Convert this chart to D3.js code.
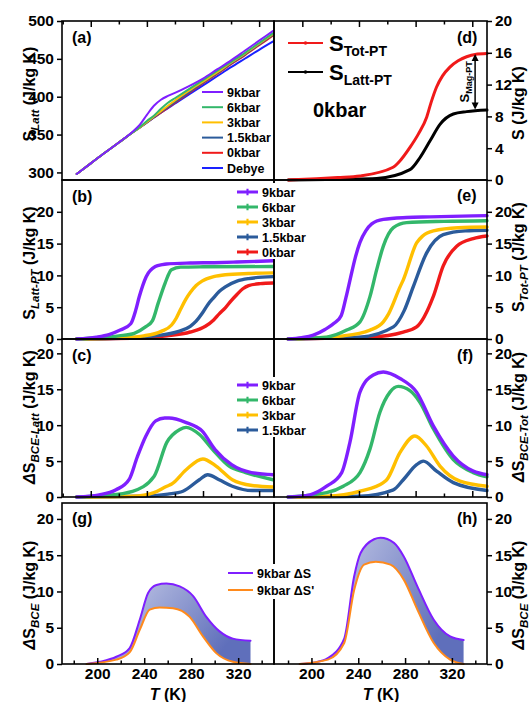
<!DOCTYPE html>
<html>
<head>
<meta charset="utf-8">
<script src="https://cdn.jsdelivr.net/npm/d3@7"></script>
<style>
  body { margin: 0; background: #fff; }
</style>
</head>
<body>
<script>
// ---- data ----
// (a) lattice entropy, common temperature grid
var tempLatt = [190, 200, 210, 220, 230, 235, 240, 245, 250, 255, 260, 270, 280, 290, 300, 310, 320, 330];
var sLatt9 = [298, 312, 326, 339.5, 354, 363, 376, 388, 396, 401, 405, 414, 424, 436, 448, 461, 474, 487];
var sLatt6 = [298, 312, 326, 339.5, 353, 360, 368, 375, 384, 392, 398, 410, 422, 434, 446, 458, 471, 484];
var sLatt3 = [298, 312, 326, 339.5, 353, 359.5, 366.5, 374, 381, 388, 395, 408, 420, 432, 445, 457, 470, 483];
var sLatt15 = [298, 312, 326, 339.5, 353, 359.5, 366, 373, 380, 386.5, 393, 406, 419, 431, 444, 456, 469, 482];
var sLatt0 = [298, 312, 326, 339.5, 353, 359.5, 366, 372.5, 379, 385.5, 392, 405, 418, 430, 443, 455, 468, 481];
var sLattDebye = [298, 312, 326, 339.5, 353, 359.5, 366, 372.5, 379, 385, 391, 403, 415, 427, 439, 450.5, 462, 473];

// (b) S_Latt-PT  [T, S]
var lattPT9 = [[190,0],[204,0.3],[213,0.7],[221,1.4],[228.5,2.4],[232,4.5],[234.5,6.6],[239.5,9.8],[246,11.4],[251,11.7],[254,11.8],[271,11.95],[288,12.0],[304,12.1],[330,12.3]];
var lattPT6 = [[190,0],[206,0.2],[220,0.5],[231,0.9],[239,1.9],[244,2.9],[248,5.6],[253,8.8],[257.5,10.9],[264,11.3],[280,11.35],[330,11.4]];
var lattPT3 = [[190,0],[221,0.2],[237.7,0.5],[250.2,1.2],[257.6,2.2],[261,3.3],[264.3,4.8],[267.6,6.2],[270.9,7.3],[275.1,8.4],[279.3,9.1],[287.6,9.8],[295.9,10.1],[312.5,10.3],[330,10.4]];
var lattPT15 = [[190,0],[229.4,0.2],[246,0.5],[262.6,1.2],[270.9,2.0],[275.1,2.8],[279.3,4.0],[283.4,5.4],[287.6,6.5],[291.7,7.5],[295.9,8.2],[304.2,9.1],[312.5,9.5],[330,9.8]];
var lattPT0 = [[190,0],[237.7,0.2],[254.3,0.5],[270.9,1.1],[281.7,2.0],[287.6,3.0],[291.7,4.0],[295.9,4.9],[300,6.0],[304.2,7.0],[308.4,7.9],[312.5,8.4],[320.8,8.7],[330,8.8]];

// (c) dS_BCE-Latt
var bceLatt9 = [[190,0],[206,0.3],[218,1.0],[227.5,2.5],[233,5.5],[239.3,8.5],[246.3,10.6],[252.7,11.0],[255.8,11.0],[267.6,10.4],[279.3,9.2],[288.6,6.6],[300.4,4.5],[314.5,3.4],[330,3.1]];
var bceLatt6 = [[190,0],[210,0.2],[229.8,0.8],[245.2,2.9],[254.2,7.6],[263.5,9.4],[268,9.7],[277.5,8.7],[286.9,6.6],[298.6,4.3],[310.4,3.4],[330,2.4]];
var bceLatt3 = [[190,0],[230,0.1],[245,0.6],[254.2,1.5],[257.7,1.8],[268,3.8],[279.9,5.3],[289.3,4.3],[300.9,2.4],[315,1.6],[330,1.4]];
var bceLatt15 = [[190,0],[234.4,0.1],[255,0.4],[265.7,0.8],[277.4,2.4],[283.3,3.1],[291.5,2.4],[300.9,1.5],[315,0.9],[330,0.9]];

// (d) 0 kbar total and lattice
var totPT0d = [[190,0],[210,0.15],[225,0.3],[240.7,0.5],[264.1,1.6],[268.9,2.4],[276,4.1],[282,5.8],[287.8,7.9],[291,9.8],[294.8,11.7],[299,13.1],[304.2,14.2],[310,15.0],[316,15.5],[322,15.8],[330.4,15.9]];
var lattPT0d = [[190,0],[230,0.1],[252.5,0.2],[276,1.3],[283,2.8],[290.1,4.9],[297.2,7.0],[306.6,8.3],[316,8.6],[330.4,8.8]];

// (e) S_Tot-PT
var totPT9 = [[190,0],[199.5,0.2],[207.8,0.6],[216,1.5],[222.6,2.5],[227.5,3.7],[230.8,6.5],[234.1,9.7],[237.4,12.8],[240.7,15.2],[244.8,17.0],[249,18.1],[257.2,18.8],[273.6,19.1],[290.1,19.2],[330.4,19.4]];
var totPT6 = [[190,0],[217.2,0.3],[231.3,1.4],[240.7,2.7],[247.8,6.7],[252.5,10.9],[257.2,14.6],[264.3,17.5],[273.6,18.3],[300,18.5],[330.4,18.6]];
var totPT3 = [[190,0],[228.9,0.5],[247.8,1.4],[257.2,2.7],[261,4.0],[269,8.2],[271.3,9.3],[280.7,15.1],[285,16.2],[292.5,17.0],[310,17.5],[330.4,17.6]];
var totPT15 = [[190,0],[240.7,0.3],[264.3,1.9],[272,4.5],[278.3,8.2],[287.7,13.5],[299.5,16.4],[315,17.0],[330.4,17.1]];
var totPT0 = [[190,0],[247.8,0.3],[271.3,1.1],[280.7,1.9],[292.5,6.7],[299.5,11.5],[309,14.6],[320.7,15.8],[330.4,16.2]];

// (f) dS_BCE-Tot
var bceTot9 = [[190,0],[205.4,0.3],[217.2,1.5],[227.8,3.4],[233.6,7.6],[240.7,14.6],[250.1,17.0],[257.2,17.4],[269,16.5],[280.7,14.6],[292.5,9.9],[306.6,5.7],[320.7,3.6],[330.4,3.1]];
var bceTot6 = [[190,0],[217.2,0.6],[228.9,1.5],[240.7,3.4],[247.8,6.7],[254.8,11.8],[261.9,14.6],[267.7,15.4],[276,14.8],[283,13.2],[292.5,9.5],[306.6,5.2],[320.7,3.4],[330.4,2.8]];
var bceTot3 = [[190,0],[217.2,0.1],[240.7,0.8],[257.2,2.0],[259.6,2.4],[269,6.2],[279.5,8.5],[287.7,7.1],[297.2,4.3],[311.3,2.2],[330.4,1.5]];
var bceTot15 = [[190,0],[240.7,0.1],[264.3,1.0],[271.3,2.4],[280.7,4.5],[285.4,5.0],[294.8,3.6],[306.6,2.0],[330.4,0.9]];

// (g) / (h) 9 kbar dS and dS'
var bceG = [[191,0],[202,0.3],[216.3,1.0],[227.6,2.2],[236.2,6.1],[243.3,9.8],[250.4,10.9],[258.9,11.1],[270.2,10.7],[281.5,9.4],[292.9,6.5],[304.2,4.5],[315.5,3.5],[330.5,3.2]];
var bcePrimeG = [[191,0],[216.3,0.6],[227.6,1.6],[236.2,4.7],[244.7,7.5],[253.2,7.8],[264.5,7.7],[278.7,6.5],[290,3.8],[301.3,1.5],[315.5,0.3],[330.5,0]];
var bceH = [[190,0],[202.5,0.2],[214,0.8],[228,3.5],[236.5,12.1],[242,15.3],[253.5,17.2],[259,17.4],[270.5,16.7],[279,14.8],[290.5,10.7],[304.5,6.1],[318.5,3.8],[330,3.3]];
var bcePrimeH = [[190,0],[214,0.6],[228,2.9],[236.5,10.2],[245,13.7],[255,14.1],[267.5,13.7],[279,11.6],[290.5,7.5],[304.5,2.9],[318.5,0.6],[330,0]];

var pressures = ['9kbar', '6kbar', '3kbar', '1.5kbar', '0kbar'];
var colors = {'9kbar': '#7f1fff', '6kbar': '#33b76a', '3kbar': '#ffbf00', '1.5kbar': '#2b5b9b', '0kbar': '#f01a1a', 'Debye': '#1a22ff'};
var majorT = [200, 240, 280, 320];
var minorT = [180, 220, 260, 300, 340];

// ---- layout ----
var font = '"Liberation Sans", Arial, Helvetica, sans-serif';
var left = 62, mid = 274, right = 487;

var svg = d3.select('body').append('svg')
  .attr('width', 531).attr('height', 702)
  .style('font-family', font).style('font-weight', 'bold');

var grad = svg.append('defs').append('linearGradient')
  .attr('id', 'fillGrad').attr('x1', 0).attr('x2', 1).attr('y1', 0).attr('y2', 0.4);
grad.append('stop').attr('offset', '0%').attr('stop-color', '#d4d8ee');
grad.append('stop').attr('offset', '100%').attr('stop-color', '#5f6fbb');

// scales
var xUp = d3.scaleLinear().domain([179.5, 330.6]).range([left, mid]);
var xUpR = d3.scaleLinear().domain([180, 330.4]).range([mid, right]);
var xLow = d3.scaleLinear().domain([170, 350.5]).range([left, mid]);
var xLowR = d3.scaleLinear().domain([168, 350]).range([mid, right]);
var yA = d3.scaleLinear().domain([290, 500]).range([180, 21]);
var yD = d3.scaleLinear().domain([0, 20]).range([180, 21]);
var yB = d3.scaleLinear().domain([0, 25]).range([339, 180]);
var yC = d3.scaleLinear().domain([0, 22]).range([497, 339]);
var yG = d3.scaleLinear().domain([0, 22.2]).range([664, 503]);

var curve = function(x, y) {
  return d3.line().x(function(d){ return x(d[0]); }).y(function(d){ return y(d[1]); }).curve(d3.curveMonotoneX);
};

var drawCurve = function(pts, x, y, color, w) {
  svg.append('path').datum(pts)
    .attr('d', curve(x, y))
    .attr('fill', 'none').attr('stroke', color)
    .attr('stroke-width', w).attr('stroke-linejoin', 'round').attr('stroke-linecap', 'round');
};

var zip = function(ts, vs) { return ts.map(function(t, i){ return [t, vs[i]]; }); };

// ---- curves ----
// (a)
var latt = {'9kbar': sLatt9, '6kbar': sLatt6, '3kbar': sLatt3, '1.5kbar': sLatt15, '0kbar': sLatt0, 'Debye': sLattDebye};
['Debye', '0kbar', '1.5kbar', '3kbar', '6kbar', '9kbar'].forEach(function(k){
  drawCurve(zip(tempLatt, latt[k]), xUp, yA, colors[k], 2);
});

// (b)
var bSeries = {'9kbar': lattPT9, '6kbar': lattPT6, '3kbar': lattPT3, '1.5kbar': lattPT15, '0kbar': lattPT0};
pressures.slice().reverse().forEach(function(k){ drawCurve(bSeries[k], xUp, yB, colors[k], 3.4); });

// (c)
var cSeries = {'9kbar': bceLatt9, '6kbar': bceLatt6, '3kbar': bceLatt3, '1.5kbar': bceLatt15};
['1.5kbar', '3kbar', '6kbar', '9kbar'].forEach(function(k){ drawCurve(cSeries[k], xUp, yC, colors[k], 3.4); });

// (d)
drawCurve(lattPT0d, xUpR, yD, '#000', 3);
drawCurve(totPT0d, xUpR, yD, '#f01a1a', 3);

// (e)
var eSeries = {'9kbar': totPT9, '6kbar': totPT6, '3kbar': totPT3, '1.5kbar': totPT15, '0kbar': totPT0};
pressures.slice().reverse().forEach(function(k){ drawCurve(eSeries[k], xUpR, yB, colors[k], 3.4); });

// (f)
var fSeries = {'9kbar': bceTot9, '6kbar': bceTot6, '3kbar': bceTot3, '1.5kbar': bceTot15};
['1.5kbar', '3kbar', '6kbar', '9kbar'].forEach(function(k){ drawCurve(fSeries[k], xUpR, yC, colors[k], 3.4); });

// (g) (h) shaded band between dS and dS'
var shade = function(upper, lower, x) {
  var area = function(pts) {
    return d3.area().x(function(d){ return x(d[0]); }).y0(yG(0)).y1(function(d){ return yG(d[1]); })
      .curve(d3.curveMonotoneX)(pts);
  };
  svg.append('path').attr('d', area(upper)).attr('fill', 'url(#fillGrad)');
  svg.append('path').attr('d', area(lower)).attr('fill', '#fff');
  drawCurve(upper, x, yG, '#7f1fff', 2);
  drawCurve(lower, x, yG, '#ff8a1c', 2);
};
shade(bceG, bcePrimeG, xLow);
shade(bceH, bcePrimeH, xLowR);

// ---- frames and axes ----
var rows = [[21, 180], [180, 339], [339, 497], [503, 664]];
rows.forEach(function(r){
  [[left, mid], [mid, right]].forEach(function(c){
    svg.append('rect').attr('x', c[0]).attr('y', r[0])
      .attr('width', c[1] - c[0]).attr('height', r[1] - r[0])
      .attr('fill', 'none').attr('stroke', '#000').attr('stroke-width', 1.6);
  });
});

var styleAxis = function(g) {
  g.select('.domain').remove();
  g.attr('font-family', font).attr('font-size', 15.5).attr('font-weight', 'bold');
  g.selectAll('line').attr('stroke', '#000').attr('stroke-width', 1.5);
  g.selectAll('text').attr('fill', '#000');
};

var yAxisLeft = function(y, vals) {
  svg.append('g').attr('transform', 'translate(' + left + ',0)')
    .call(d3.axisLeft(y).tickValues(vals).tickSize(5).tickPadding(3).tickFormat(d3.format('d')))
    .call(styleAxis);
};
var yAxisRight = function(y, vals) {
  svg.append('g').attr('transform', 'translate(' + right + ',0)')
    .call(d3.axisRight(y).tickValues(vals).tickSize(5).tickPadding(3).tickFormat(d3.format('d')))
    .call(styleAxis);
};
yAxisLeft(yA, [300, 350, 400, 450, 500]);
yAxisLeft(yB, [0, 5, 10, 15, 20]);
yAxisLeft(yC, [0, 5, 10, 15, 20]);
yAxisLeft(yG, [0, 5, 10, 15, 20]);
yAxisRight(yD, [0, 4, 8, 12, 16, 20]);
yAxisRight(yB, [0, 5, 10, 15, 20]);
yAxisRight(yC, [0, 5, 10, 15, 20]);
yAxisRight(yG, [0, 5, 10, 15, 20]);

// inward x ticks
var xTicks = function(x, ypos, down, labels) {
  var s = down ? 1 : -1;
  svg.append('g').attr('transform', 'translate(0,' + ypos + ')')
    .call(d3.axisBottom(x).tickValues(majorT).tickSize(s * 6).tickPadding(4)
      .tickFormat(labels ? d3.format('d') : ''))
    .call(styleAxis);
  svg.append('g').attr('transform', 'translate(0,' + ypos + ')')
    .call(d3.axisBottom(x).tickValues(minorT.filter(function(t){
      return t > x.domain()[0] && t < x.domain()[1]; })).tickSize(s * 3.5).tickFormat(''))
    .call(styleAxis);
};
xTicks(xUp, 21, true, false);
xTicks(xUpR, 21, true, false);
xTicks(xUp, 497, false, false);
xTicks(xUpR, 497, false, false);
xTicks(xLow, 664, false, true);
xTicks(xLowR, 664, false, true);

// ---- text ----
var addText = function(x, y, parts, opts) {
  opts = opts || {};
  var t = svg.append('text')
    .attr('text-anchor', opts.anchor || 'start')
    .attr('font-size', opts.size || 16);
  if (opts.rotate) {
    t.attr('transform', 'translate(' + x + ',' + y + ') rotate(-90)').attr('dy', '0.35em');
  } else {
    t.attr('x', x).attr('y', y);
  }
  parts.forEach(function(p){
    var s = t.append('tspan').text(p.t);
    if (p.italic) s.attr('font-style', 'italic');
    if (p.size) s.attr('font-size', p.size);
    if (p.dy) s.attr('dy', p.dy);
  });
  return t;
};

var sub = function(txt) {
  return [{t: txt, italic: true, size: 11.5, dy: 4}];
};
var unit = {t: ' (J/kg K)', dy: -4};
var dS = [{t: 'Δ', italic: true}, {t: 'S'}];

// axis titles
var titleSize = 16;
addText(29, 94, [{t: 'S'}].concat(sub('Latt'), [unit]), {anchor: 'middle', rotate: true, size: titleSize});
addText(29, 263, [{t: 'S'}].concat(sub('Latt-PT'), [unit]), {anchor: 'middle', rotate: true, size: titleSize});
addText(29, 417, dS.concat(sub('BCE-Latt'), [unit]), {anchor: 'middle', rotate: true, size: titleSize});
addText(29, 595, dS.concat(sub('BCE'), [unit]), {anchor: 'middle', rotate: true, size: titleSize});
addText(518, 103, [{t: 'S (J/kg K)'}], {anchor: 'middle', rotate: true, size: titleSize});
addText(518, 257, [{t: 'S'}].concat(sub('Tot-PT'), [unit]), {anchor: 'middle', rotate: true, size: titleSize});
addText(518, 417, dS.concat(sub('BCE-Tot'), [unit]), {anchor: 'middle', rotate: true, size: titleSize});
addText(518, 595, dS.concat(sub('BCE'), [unit]), {anchor: 'middle', rotate: true, size: titleSize});

addText(168, 700, [{t: 'T', italic: true}, {t: ' (K)'}], {anchor: 'middle', size: 16});
addText(381, 700, [{t: 'T', italic: true}, {t: ' (K)'}], {anchor: 'middle', size: 16});

// panel letters
[['(a)', 72, 43], ['(b)', 72, 202], ['(c)', 72, 361], ['(g)', 72, 524],
 ['(d)', 457, 43], ['(e)', 457, 201], ['(f)', 457, 361], ['(h)', 457, 524]].forEach(function(p){
  addText(p[1], p[2], [{t: p[0]}], {size: 16});
});

// ---- legends ----
var legend = function(keys, labels, x0, y0, step, len, box, markers, width) {
  if (box) {
    svg.append('rect').attr('x', box[0]).attr('y', box[1]).attr('width', box[2]).attr('height', box[3]).attr('fill', '#fff');
  }
  keys.forEach(function(k, i){
    var y = y0 + i * step;
    svg.append('line').attr('x1', x0).attr('x2', x0 + len).attr('y1', y).attr('y2', y)
      .attr('stroke', colors[k] || k).attr('stroke-width', width);
    if (markers) {
      svg.append('path').attr('d', d3.symbol(d3.symbolCross, 22)())
        .attr('transform', 'translate(' + (x0 + len / 2) + ',' + y + ')')
        .attr('fill', colors[k] || k);
    }
    addText(x0 + len + 4, y + 4.5, [{t: labels[i]}], {size: 12.5});
  });
};
legend(['9kbar', '6kbar', '3kbar', '1.5kbar', '0kbar', 'Debye'],
  ['9kbar', '6kbar', '3kbar', '1.5kbar', '0kbar', 'Debye'], 202, 92, 15.2, 21, null, false, 2);
legend(pressures, pressures, 237, 192, 15, 21, [234, 183, 80, 76], true, 3);
legend(['9kbar', '6kbar', '3kbar', '1.5kbar'], ['9kbar', '6kbar', '3kbar', '1.5kbar'],
  237, 385, 15, 21, [234, 377, 72, 60], true, 3);
legend(['#7f1fff', '#ff8a1c'], ['9kbar ΔS', "9kbar ΔS'"], 228, 573, 17, 25, [225, 564, 90, 35], false, 2);

// (d) legend and annotations
var dKeys = [['#f01a1a', 'Tot-PT', 43], ['#000', 'Latt-PT', 72]];
dKeys.forEach(function(d){
  svg.append('line').attr('x1', 288).attr('x2', 323).attr('y1', d[2]).attr('y2', d[2])
    .attr('stroke', d[0]).attr('stroke-width', 2.2);
  svg.append('circle').attr('cx', 305.5).attr('cy', d[2]).attr('r', 1.8).attr('fill', d[0]);
  addText(329, d[2] + 8, [{t: 'S'}, {t: d[1], size: 14, dy: 5}], {size: 22});
});
addText(313, 117, [{t: '0kbar'}], {size: 20});

var ax = xUpR(322);
var yTop = yD(totPT0d[totPT0d.length - 1][1]);
var yBot = yD(lattPT0d[lattPT0d.length - 1][1]);
svg.append('line').attr('x1', ax).attr('x2', ax).attr('y1', yTop + 5).attr('y2', yBot - 5)
  .attr('stroke', '#000').attr('stroke-width', 1.5);
svg.append('path').attr('d', 'M' + ax + ',' + (yTop + 0.5) + 'l-3.5,7h7z').attr('fill', '#000');
svg.append('path').attr('d', 'M' + ax + ',' + (yBot - 0.5) + 'l-3.5,-7h7z').attr('fill', '#000');
addText(ax - 11, (yTop + yBot) / 2, [{t: 'S'}, {t: 'Mag-PT', size: 9, dy: 3}], {anchor: 'middle', rotate: true, size: 13});
</script>
</body>
</html>
